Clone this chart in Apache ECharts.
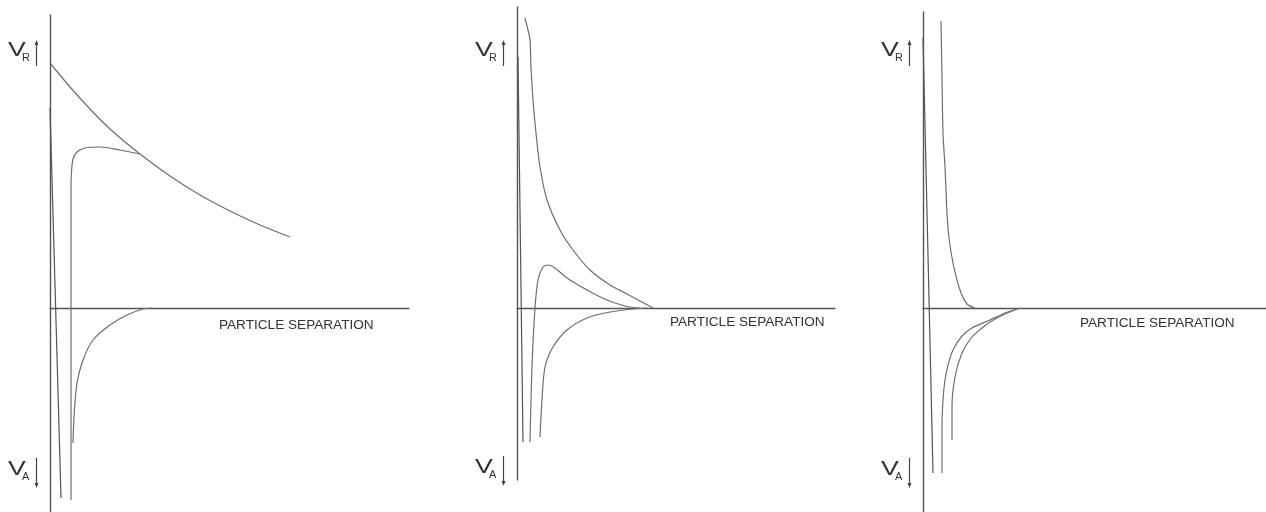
<!DOCTYPE html>
<html>
<head>
<meta charset="utf-8">
<title>Particle interaction energy</title>
<script src="https://cdn.jsdelivr.net/npm/echarts@6/dist/echarts.min.js"></script>
<style>
    html, body { margin: 0; padding: 0; background: #fff; }
    #chart { width: 1266px; height: 512px; }
</style>
</head>
<body>
<div id="chart"></div>
<script>
// values: x = separation, y = energy (V_R up, V_A down), arbitrary units

// panel 1
let p1Repulsion = [[0, 24.5], [2, 22.1], [4, 19.9], [6, 17.9], [9, 15.4], [12, 13.2], [15, 11.3], [18, 9.7], [21, 8.3], [24, 7.1]];
let p1Net = [[2.1, -19.2], [2.1, -8], [2.1, 0], [2.1, 8], [2.1, 12.4], [2.15, 13.6], [2.3, 14.9], [2.7, 15.6], [3.5, 16.0], [5, 16.1], [7, 15.8], [9, 15.4]];
let p1Attraction = [[2.3, -13.5], [2.4, -10.9], [2.7, -7.5], [3.3, -5.2], [4.3, -3.2], [6, -1.7], [7.7, -0.7], [9.3, -0.1], [10.2, 0]];
let p1Steep = [[0, 20], [1.1, -19]];

// panel 2
let p2Repulsion = [[0.8, 29], [1.1, 27.8], [1.3, 26.8], [1.4, 24.1], [1.6, 20.8], [1.9, 17.5], [2.3, 14.1], [3.0, 10.8], [4.3, 7.8], [5.6, 5.8], [7.3, 3.8], [9.3, 2.3], [11.0, 1.4], [12.3, 0.7], [13.6, 0]];
let p2Net = [[1.3, -13.4], [1.5, -5.9], [1.8, 0], [2.1, 2.8], [2.6, 4.1], [3.1, 4.3], [3.8, 4.0], [5.0, 3.0], [7.0, 1.8], [9.0, 0.8], [11, 0.15], [12.3, 0]];
let p2Attraction = [[2.3, -12.9], [2.5, -9.2], [2.8, -5.9], [3.6, -3.9], [5.0, -2.2], [7.0, -1.0], [9.3, -0.4], [11.6, -0.1], [13, 0]];
let p2Steep = [[0.1, 25.1], [0.6, -13.4]];

// panel 3
let p3Repulsion = [[1.8, 28.7], [1.9, 23], [2.0, 17.5], [2.2, 14.1], [2.4, 9.5], [2.6, 7.0], [3.0, 4.5], [3.7, 1.8], [4.4, 0.4], [5.2, 0]];
let p3AttractionA = [[1.9, -16.5], [1.9, -11.9], [2.0, -9.2], [2.2, -7.2], [2.5, -5.7], [3.0, -4.2], [3.9, -2.8], [4.9, -2.0], [6.7, -1.2], [8.2, -0.5], [9.7, 0]];
let p3AttractionB = [[2.9, -13.2], [2.9, -9.9], [3.2, -6.9], [3.9, -4.5], [4.9, -2.9], [5.9, -2.0], [6.7, -1.4], [8.2, -0.6], [9.7, 0]];
let p3Steep = [[0, 27], [1.0, -16.5]];

let axisColor = '#555';
let curveColor = '#6e6e6e';
let textColor = '#333';
let fontName = '"Liberation Sans", Arial, sans-serif';

let grids = [
    {left: 50, top: 15, width: 359, height: 497},
    {left: 517, top: 7, width: 318, height: 473},
    {left: 923, top: 12, width: 343, height: 500}
];
let xMax = [35.9, 31.8, 34.3];
let yMin = [-20.4, -17.2, -20.4];
let yMax = [29.3, 30.1, 29.6];

function makeX(i) {
    return {
        type: 'value', gridIndex: i, min: 0, max: xMax[i],
        axisLine: {show: true, onZero: true, lineStyle: {color: axisColor, width: 1.4}},
        axisTick: {show: false}, axisLabel: {show: false}, splitLine: {show: false}
    };
}
function makeY(i) {
    return {
        type: 'value', gridIndex: i, min: yMin[i], max: yMax[i],
        axisLine: {show: true, onZero: false, lineStyle: {color: axisColor, width: 1.4}},
        axisTick: {show: false}, axisLabel: {show: false}, splitLine: {show: false}
    };
}
function curve(data, i, smooth, color) {
    return {
        type: 'line', xAxisIndex: i, yAxisIndex: i, data: data,
        showSymbol: false, smooth: smooth, silent: true,
        lineStyle: {color: color || curveColor, width: 1.2}
    };
}
function label(x, y, text, size, sx) {
    return {type: 'text', x: x, y: y, scaleX: sx || 1,
        style: {text: text, fill: textColor, fontSize: size, fontFamily: fontName, verticalAlign: 'middle'}};
}

// V_R / V_A labels and arrows next to each energy axis
let axisLefts = [50, 517, 923];
let vaTop = [462, 460, 462];
let sepText = [[219, 325], [670, 322], [1080, 323]];
let graphics = [];
axisLefts.forEach(function (ax, i) {
    let vx = ax - 42;
    let arX = ax - 13.5;
    graphics.push(label(vx, 50.5, 'V', 20.5, 1.3));
    graphics.push(label(vx + 14, 57.5, 'R', 11));
    graphics.push({type: 'line', shape: {x1: arX, y1: 66, x2: arX, y2: 42}, style: {stroke: '#444', lineWidth: 1.2}});
    graphics.push({type: 'polygon', shape: {points: [[arX - 2, 45], [arX, 40], [arX + 2, 45]]}, style: {fill: '#444'}});

    let ay = vaTop[i];
    graphics.push(label(vx, ay + 7.5, 'V', 20.5, 1.3));
    graphics.push(label(vx + 14, ay + 14.5, 'A', 11));
    graphics.push({type: 'line', shape: {x1: arX, y1: ay - 4, x2: arX, y2: ay + 22}, style: {stroke: '#444', lineWidth: 1.2}});
    graphics.push({type: 'polygon', shape: {points: [[arX - 2, ay + 21], [arX, ay + 26], [arX + 2, ay + 21]]}, style: {fill: '#444'}});

    graphics.push(label(sepText[i][0], sepText[i][1], 'PARTICLE SEPARATION', 13.6));
});

let myChart = echarts.init(document.getElementById('chart'), null, {renderer: 'canvas'});
let option = {
    animation: false,
    backgroundColor: '#fff',
    grid: grids,
    xAxis: [makeX(0), makeX(1), makeX(2)],
    yAxis: [makeY(0), makeY(1), makeY(2)],
    graphic: graphics,
    series: [
        curve(p1Repulsion, 0, 0.3),
        curve(p1Net, 0, 0.3),
        curve(p1Attraction, 0, 0.3),
        curve(p1Steep, 0, false, '#555'),
        curve(p2Repulsion, 1, 0.3),
        curve(p2Net, 1, 0.3),
        curve(p2Attraction, 1, 0.3),
        curve(p2Steep, 1, false, '#555'),
        curve(p3Repulsion, 2, 0.3),
        curve(p3AttractionA, 2, 0.3),
        curve(p3AttractionB, 2, 0.3),
        curve(p3Steep, 2, false, '#555')
    ]
};
myChart.setOption(option, true);
</script>
</body>
</html>
